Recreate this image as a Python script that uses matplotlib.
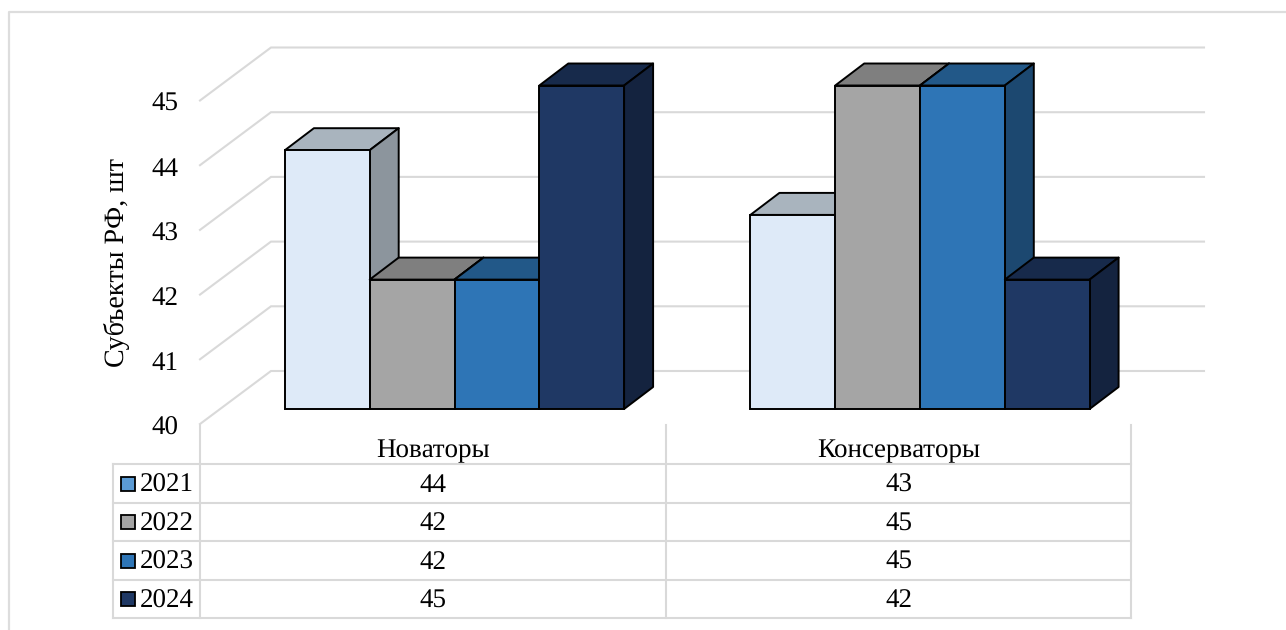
import matplotlib
matplotlib.use('Agg')
import matplotlib.pyplot as plt
from matplotlib.patches import Rectangle

plt.rcParams['font.family'] = ['Liberation Serif', 'DejaVu Serif']
plt.rcParams['text.hinting'] = 'no_hinting'
plt.rcParams['text.hinting_factor'] = 1

categories = ['Новаторы', 'Консерваторы']
years = ['2021', '2022', '2023', '2024']
v2021 = [44, 43]
v2022 = [42, 45]
v2023 = [42, 45]
v2024 = [45, 42]
series = [v2021, v2022, v2023, v2024]
y_ticks = [40, 41, 42, 43, 44, 45]

front_col = ['#DEEAF8', '#A5A5A5', '#2E75B6', '#1F3864']
top_col = ['#A9B4BE', '#7F7F7F', '#225888', '#172A4B']
side_col = ['#8C959D', '#6E6E6E', '#1C4870', '#14233F']
key_col = ['#5B9BD5', '#A5A5A5', '#2E75B6', '#1F3864']
grid_col = '#D9D9D9'

W, H = 1286, 630
# масштаб: пикселей на категорию и на единицу значения
px_cat = 465.5
px_val = 64.7
cat0_px = 454.5
base_px = 409
dx = lambda p: p / px_cat
dy = lambda p: p / px_val
font = 19.6

fig = plt.figure(figsize=(W / 100, H / 100), dpi=100)

# оси со значениями (столбцы и сетка)
ax = fig.add_axes([0, 0, 1, 1])
ax.set_xlim(-cat0_px / px_cat, (W - cat0_px) / px_cat)
ax.set_ylim(40 - (H - base_px) / px_val, 40 + base_px / px_val)
ax.axis('off')

# оси в пикселях (рамка и таблица)
pg = fig.add_axes([0, 0, 1, 1], zorder=3)
pg.set_xlim(0, W)
pg.set_ylim(H, 0)
pg.axis('off')
pg.patch.set_alpha(0)

lw_grid = 1.5
lw_bar = 1.4

# рамка
pg.plot([9, 9, W], [H, 12, 12], color='#DDDDDD', lw=1.6)

# сетка: стена и левая грань
wall_x0 = dx(271 - cat0_px)
wall_x1 = dx(1204 - cat0_px)
side_x0 = dx(200 - cat0_px)
for t in y_ticks:
    back = t + dy(38)
    front = t - dy(15)
    ax.plot([side_x0, wall_x0, wall_x1], [front, back, back], color=grid_col, lw=lw_grid, zorder=1,
            solid_joinstyle='miter')

# столбцы
w = 84.8 / px_cat
ox = dx(29)
oy = dy(22)
for c in range(len(categories)):
    for s in range(len(series)):
        val = series[s][c]
        x = c + (s - 2) * w
        z = 2 + s + c * 10
        ax.fill([x, x + ox, x + w + ox, x + w], [val, val + oy, val + oy, val],
                facecolor=top_col[s], edgecolor='black', lw=lw_bar, zorder=z, joinstyle='round')
        ax.fill([x + w, x + w + ox, x + w + ox, x + w], [val, val + oy, 40 + oy, 40],
                facecolor=side_col[s], edgecolor='black', lw=lw_bar, zorder=z, joinstyle='round')
        ax.bar(x, val - 40, bottom=40, width=w, align='edge', color=front_col[s],
               edgecolor='black', lw=lw_bar, zorder=z)

# подписи оси Y
for t in y_ticks:
    ax.text(dx(178 - cat0_px), t - dy(19), str(t), fontsize=font, ha='right', va='center', color='black')
pg.text(117, 262.5, 'Субъекты РФ, шт', rotation=90, fontsize=19.9, ha='center', va='center')

# таблица данных
rows = [464, 503, 541, 580, 618]
col_l, col_a, col_m, col_r = 113, 200, 666, 1131
for y in rows:
    pg.plot([col_l, col_r], [y, y], color=grid_col, lw=lw_grid)
pg.plot([col_l, col_l], [464, 618], color=grid_col, lw=lw_grid)
for x in [col_a, col_m, col_r]:
    pg.plot([x, x], [425, 618], color=grid_col, lw=lw_grid)

col_c = [(col_a + col_m) / 2, (col_m + col_r) / 2]
for c, name in enumerate(categories):
    pg.text(col_c[c], 451, name, fontsize=font, ha='center', va='center')
for s, year in enumerate(years):
    yc = (rows[s] + rows[s + 1]) / 2
    pg.add_patch(Rectangle((120.5, yc - 7), 14, 14, facecolor=key_col[s], edgecolor='black', lw=1.3))
    pg.text(140, yc + 2, year, fontsize=font, ha='left', va='center')
    for c in range(len(categories)):
        pg.text(col_c[c], yc + 2, str(series[s][c]), fontsize=font, ha='center', va='center')

fig.savefig('out.png', dpi=100, facecolor='white')
